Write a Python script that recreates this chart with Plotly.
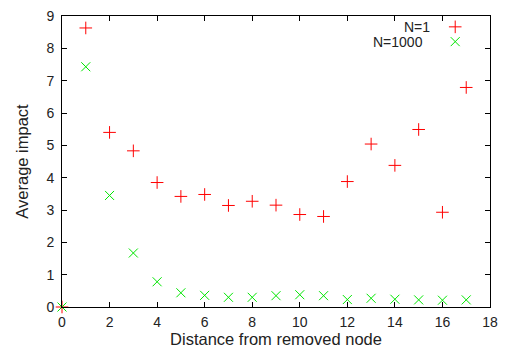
import plotly.graph_objects as go

distance = list(range(18))
impact_n1 = [0.0, 8.63, 5.4, 4.83, 3.85, 3.42, 3.48, 3.14, 3.27, 3.15, 2.86, 2.8, 3.88, 5.04, 4.38, 5.49, 2.93, 6.79]
impact_n1000 = [0.0, 7.43, 3.45, 1.67, 0.78, 0.44, 0.36, 0.3, 0.3, 0.35, 0.38, 0.35, 0.23, 0.27, 0.24, 0.22, 0.21, 0.22]
series_names = ["N=1", "N=1000"]
x_ticks = list(range(0, 19, 2))
y_ticks = list(range(0, 10))

RED = "#ff0000"
GREEN = "#00e600"

fig = go.Figure()
fig.add_trace(go.Scatter(x=distance, y=impact_n1, mode="markers", name="", legend="legend",
                         marker=dict(symbol="cross-thin", size=9, line=dict(color=RED, width=1), color=RED),
                         cliponaxis=False))
fig.add_trace(go.Scatter(x=distance, y=impact_n1000, mode="markers", name=" ", legend="legend2",
                         marker=dict(symbol="x-thin", size=9, line=dict(color=GREEN, width=1), color=GREEN),
                         cliponaxis=False))

font = dict(family="Liberation Sans, Arial, sans-serif", size=14, color="#222")
axis_common = dict(showline=True, linecolor="black", linewidth=1, mirror="ticks", ticks="inside",
                   ticklen=5, tickcolor="black", showgrid=False, zeroline=False, tickfont=font,
                   automargin=False)
legend_common = dict(x=0.872, xanchor="left", yanchor="middle", bgcolor="rgba(0,0,0,0)",
                     font=dict(size=10), itemwidth=30)

fig.update_layout(
    width=505, height=353,
    margin=dict(l=62, r=15, t=12, b=46),
    plot_bgcolor="white", paper_bgcolor="white",
    font=font,
    xaxis=dict(range=[0, 18], tickvals=x_ticks, ticklabelstandoff=2,
               title=dict(text="Distance from removed node", font=dict(size=16.5), standoff=4), **axis_common),
    yaxis=dict(range=[0, 9], tickvals=y_ticks, ticklabelstandoff=4,
               title=dict(text="Average impact", font=dict(size=16.5), standoff=13), **axis_common),
    legend=dict(y=0.9627, **legend_common),
    legend2=dict(y=0.9119, **legend_common),
    showlegend=True,
)
fig.add_annotation(text=series_names[0], xref="paper", yref="paper", x=0.865, y=0.9627, xanchor="right", yanchor="middle",
                   showarrow=False, font=dict(size=14, color="#222"))
fig.add_annotation(text=series_names[1], xref="paper", yref="paper", x=0.848, y=0.9119, xanchor="right", yanchor="middle",
                   showarrow=False, font=dict(size=14, color="#222"))

fig.write_html("out.html")
